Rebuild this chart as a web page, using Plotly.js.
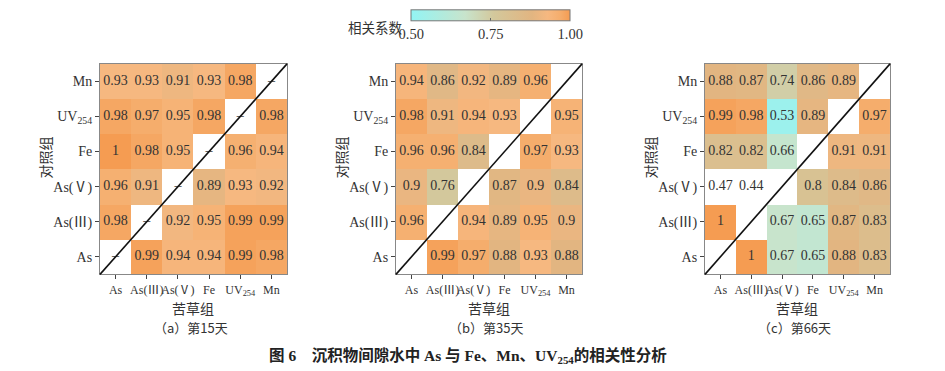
<!DOCTYPE html>
<html>
<head>
<meta charset="utf-8">
<script src="https://cdn.plot.ly/plotly-3.0.1.min.js"></script>
<style>html,body{margin:0;padding:0;background:#fff;}#chart{width:945px;height:371px;}</style>
</head>
<body>
<div id="chart"></div>
<script>
// Variables (rows bottom -> top, columns left -> right)
const varLabels = ['As', 'As(Ⅲ)', 'As(Ⅴ)', 'Fe', 'UV<sub>254</sub>', 'Mn'];

// Day 15 (rows: As, As(III), As(V), Fe, UV254, Mn)
const day15 = [
  [null, 0.99, 0.94, 0.94, 0.99, 0.98],
  [0.98, null, 0.92, 0.95, 0.99, 0.99],
  [0.96, 0.91, null, 0.89, 0.93, 0.92],
  [1,    0.98, 0.95, null, 0.96, 0.94],
  [0.98, 0.97, 0.95, 0.98, null, 0.98],
  [0.93, 0.93, 0.91, 0.93, 0.98, null]
];
// Day 35
const day35 = [
  [null, 0.99, 0.97, 0.88, 0.93, 0.88],
  [0.96, null, 0.94, 0.89, 0.95, 0.9],
  [0.9,  0.76, null, 0.87, 0.9,  0.84],
  [0.96, 0.96, 0.84, null, 0.97, 0.93],
  [0.98, 0.91, 0.94, 0.93, null, 0.95],
  [0.94, 0.86, 0.92, 0.89, 0.96, null]
];
// Day 66
const day66 = [
  [null, 1,    0.67, 0.65, 0.88, 0.83],
  [1,    null, 0.67, 0.65, 0.87, 0.83],
  [0.47, 0.44, null, 0.8,  0.84, 0.86],
  [0.82, 0.82, 0.66, null, 0.91, 0.91],
  [0.99, 0.98, 0.53, 0.89, null, 0.97],
  [0.88, 0.87, 0.74, 0.86, 0.89, null]
];
const panelCaptions = ['（a）第15天', '（b）第35天', '（c）第66天'];
const diagMark = ['–', '', ''];
const cbTicks = [0.5, 0.75, 1.0];

const serif = "'Liberation Serif', 'Noto Sans CJK SC', serif";
const cjk = "'Noto Sans CJK SC', sans-serif";
const txtColor = '#333333';
const colorscale = [
  [0.00, '#92f4f4'],
  [0.34, '#c8e4cc'],
  [0.52, '#d3c89c'],
  [0.76, '#e2b581'],
  [0.86, '#f6b880'],
  [0.94, '#f5ad6c'],
  [1.00, '#f59c52']
];

const panels = [day15, day35, day66];
const xDomains = [[0.1058, 0.3037], [0.4190, 0.6159], [0.7460, 0.9418]];
const yDomain = [0.2722, 0.8652];
const idx = [0, 1, 2, 3, 4, 5];

const data = [];
const layout = {
  width: 945, height: 371,
  margin: {l: 0, r: 0, t: 0, b: 0},
  paper_bgcolor: '#fff', plot_bgcolor: '#fff',
  showlegend: false,
  font: {family: serif, color: txtColor, size: 13.5},
  shapes: [], annotations: []
};

panels.forEach((m, p) => {
  const xa = p === 0 ? 'x' : 'x' + (p + 1);
  const ya = p === 0 ? 'y' : 'y' + (p + 1);
  const zDisp = m.map(r => r.map(v => (v === null || v < 0.5) ? null : v));
  data.push({
    type: 'heatmap', x: idx, y: idx, z: zDisp,
    xaxis: xa, yaxis: ya,
    zmin: 0.5, zmax: 1.0, colorscale: colorscale,
    showscale: p === 0, hoverinfo: 'skip',
    colorbar: {
      orientation: 'h', x: 0.5193, xanchor: 'center', y: 0.965, yanchor: 'middle',
      len: 179, lenmode: 'pixels', thickness: 11,
      outlinecolor: '#777', outlinewidth: 1,
      tickvals: cbTicks, ticktext: cbTicks.map(v => v.toFixed(2)),
      ticks: 'inside', ticklen: 3, tickcolor: '#666',
      tickfont: {family: serif, size: 14.5, color: txtColor}
    }
  });
  const tx = [], ty = [], tt = [];
  m.forEach((row, i) => row.forEach((v, j) => {
    const label = v === null ? diagMark[p] : String(v);
    if (label !== '') { tx.push(j); ty.push(i); tt.push(label); }
  }));
  data.push({
    type: 'scatter', mode: 'text', x: tx, y: ty, text: tt,
    xaxis: xa, yaxis: ya, hoverinfo: 'skip',
    textfont: {family: serif, size: 14, color: txtColor}
  });
  const axBase = {
    range: [-0.5, 5.5], tickvals: idx, ticktext: varLabels,
    ticks: 'outside', ticklen: 4, tickcolor: '#444', tickwidth: 1,
    showgrid: false, zeroline: false, fixedrange: true,
    showline: true, linecolor: '#888', linewidth: 1, mirror: true,
    tickfont: {family: serif, size: 14, color: txtColor}
  };
  layout['xaxis' + (p === 0 ? '' : p + 1)] = Object.assign({}, axBase, {
    domain: xDomains[p], anchor: ya, tickangle: 0,
    tickfont: {family: serif, size: 12, color: txtColor}
  });
  layout['yaxis' + (p === 0 ? '' : p + 1)] = Object.assign({}, axBase, {
    domain: yDomain, anchor: xa
  });
  layout.shapes.push({
    type: 'line', xref: xa + ' domain', yref: ya + ' domain',
    x0: 0, y0: 0, x1: 1, y1: 1, line: {color: '#111', width: 1.6}
  });
  const cx = (xDomains[p][0] + xDomains[p][1]) / 2;
  layout.annotations.push({
    xref: 'paper', yref: 'paper', x: cx, y: 1 - 305 / 371,
    xanchor: 'center', yanchor: 'middle',
    text: '苦草组', showarrow: false,
    font: {family: cjk, size: 14, color: txtColor}
  });
  layout.annotations.push({
    xref: 'paper', yref: 'paper', x: cx - 0.003, y: 1 - 326 / 371,
    xanchor: 'center', yanchor: 'middle',
    text: panelCaptions[p], showarrow: false,
    font: {family: cjk, size: 13, color: txtColor}
  });
  layout.annotations.push({
    xref: 'paper', yref: 'paper', x: xDomains[p][0] - 55 / 945, y: 1 - 148 / 371,
    xanchor: 'center', yanchor: 'middle', textangle: -90,
    text: '对照组', showarrow: false,
    font: {family: cjk, size: 14, color: txtColor}
  });
});

layout.annotations.push({
  xref: 'paper', yref: 'paper', x: 404 / 945, y: 1 - 12 / 371,
  xanchor: 'right', yanchor: 'middle', text: '相关系数', showarrow: false,
  borderpad: 0,
  font: {family: cjk, size: 13.5, color: txtColor}
});
layout.annotations.push({
  xref: 'paper', yref: 'paper', x: 468 / 945, y: 1 - 355 / 371,
  xanchor: 'center', yanchor: 'middle',
  text: '<b>图 6　沉积物间隙水中 As 与 Fe、Mn、UV<sub>254</sub>的相关性分析</b>',
  showarrow: false,
  font: {family: serif, size: 15.5, color: '#222'}
});

Plotly.newPlot('chart', data, layout, {staticPlot: true, displayModeBar: false});
</script>
</body>
</html>
